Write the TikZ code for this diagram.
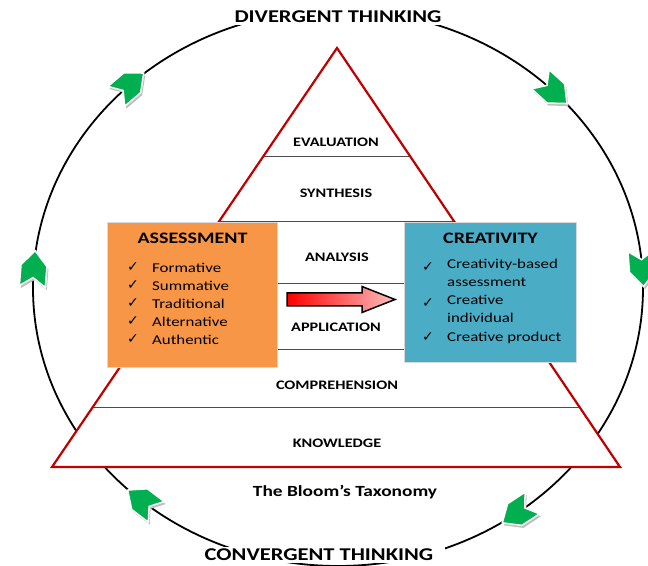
\documentclass[tikz,border=0pt]{standalone}
\usepackage{fontspec}
\setmainfont{Carlito}[FakeStretch=1.25]
\newfontfamily\symfont{DejaVu Sans}
\usetikzlibrary{calc,positioning}

\definecolor{bloomred}{HTML}{C00000}
\definecolor{assessorange}{HTML}{F79646}
\definecolor{creablue}{HTML}{4BACC6}
\definecolor{flowgreen}{HTML}{00B050}

\newcommand{\tick}{{\symfont\fontsize{14}{14}\selectfont ✓}}

\tikzset{
  thinking/.style={font=\bfseries\fontsize{18}{20}\selectfont,fill=white,inner xsep=12pt,inner ysep=2pt},
  level/.style={font=\bfseries\fontsize{13}{15}\selectfont},
  divline/.style={draw=black!70,line width=1},
  catbox/.style={draw=black!15,line width=1,anchor=north west},
  boxtitle/.style={font=\bfseries\fontsize{16}{18}\selectfont},
  boxitem/.style={font=\fontsize{13.5}{18}\selectfont,anchor=west,inner sep=0pt,align=left},
  arrowshadow/.pic={
    \fill[black!25] (-18,13) -- (3,13) -- (18,0) -- (3,-13) -- (-18,-13) -- (-9,0) -- cycle;
  },
  flowarrow/.pic={
    \filldraw[fill=flowgreen,draw=white,line width=1.5] (-18,13) -- (3,13) -- (18,0) -- (3,-13) -- (-18,-13) -- (-9,0) -- cycle;
  }
}

\begin{document}
\begin{tikzpicture}[x=1pt,y=1pt]
\useasboundingbox (0,0) rectangle (648,565);
\coordinate (O) at (338,277);
\coordinate (T) at (337,517);
\coordinate (L) at (52,98);
\coordinate (R) at (620,98);

% outer cycle
\draw[line width=1.8] (O) ellipse [x radius=305,y radius=278];
\foreach \t in {133,45,4,-54,-130,176}{
  \pgfmathsetmacro\dir{atan2(-278*cos(\t),305*sin(\t))}
  \coordinate (fa) at ($(O)+(\t:305 and 278)$);
  \pic[rotate=\dir] at ([shift={(1.5,-2.5)}]fa) {arrowshadow};
  \pic[rotate=\dir] at (fa) {flowarrow};
}
\node[thinking] (div) at (338,548) {DIVERGENT THINKING};
\node[thinking] (conv) at (319,10) {CONVERGENT THINKING};

% pyramid
\fill[white] (T) -- (L) -- (R) -- cycle;
\draw[divline] ($(T)!0.26!(L)$) -- ($(T)!0.26!(R)$);
\draw[divline] ($(T)!0.415!(L)$) -- ($(T)!0.415!(R)$);
\draw[divline] ($(T)!0.857!(L)$) -- ($(T)!0.857!(R)$);
\draw[bloomred,line width=2.2,line join=miter] (T) -- (L) -- (R) -- cycle;

\node[level] (eval) at (336,423) {EVALUATION};
\node[level] (synth) at (336,372) {SYNTHESIS};
\node[level] (anal) at (337,308) {ANALYSIS};
\node[level] (appl) at (336,238) {APPLICATION};
\node[level] (comp) at (337,180) {COMPREHENSION};
\node[level] (know) at (337,122) {KNOWLEDGE};
\node[font=\bfseries\fontsize{15.5}{17}\selectfont] (bloom) at (345,73) {The Bloom’s Taxonomy};

% boxes
\node[catbox,fill=assessorange,minimum width=170,minimum height=145] (assess) at (107,343) {};
\node[catbox,fill=creablue,minimum width=172,minimum height=140] (crea) at (404,343) {};
\draw[divline] (assess.east |- 0,281) -- (crea.west |- 0,281);
\draw[divline] (assess.east |- 0,215) -- (crea.west |- 0,215);

\node[boxtitle] (assesstitle) at ($(assess.north)+(0,-16)$) {ASSESSMENT};
\node[boxitem] (form) at (152,297) {Formative};
\node[boxitem] (summ) at (152,279) {Summative};
\node[boxitem] (trad) at (152,261) {Traditional};
\node[boxitem] (alt) at (152,243) {Alternative};
\node[boxitem] (auth) at (152,225) {Authentic};
\foreach \n in {form,summ,trad,alt,auth}
  \node[inner sep=0pt] at ([xshift=-19,yshift=1]\n.west) {\tick};

\node[boxtitle] (creatitle) at ($(crea.north)+(0,-16)$) {CREATIVITY};
\node[boxitem,anchor=north west] (cbased) at (447,306) {Creativity-based\\assessment};
\node[boxitem,anchor=north west] (cindiv) at (447,270) {Creative\\individual};
\node[boxitem] (cprod) at (447,227) {Creative product};
\foreach \n in {cbased,cindiv}
  \node[inner sep=0pt] at ([xshift=-19,yshift=-8]\n.north west) {\tick};
\node[inner sep=0pt] at ([xshift=-19,yshift=1]cprod.west) {\tick};

% transfer arrow
\shadedraw[left color=red,right color=red!25,draw=black,line width=1.5]
  (287,272) -- (362,272) -- (362,278.5) -- (395,265.5) -- (362,252.5) -- (362,259) -- (287,259) -- cycle;
\end{tikzpicture}
\end{document}
